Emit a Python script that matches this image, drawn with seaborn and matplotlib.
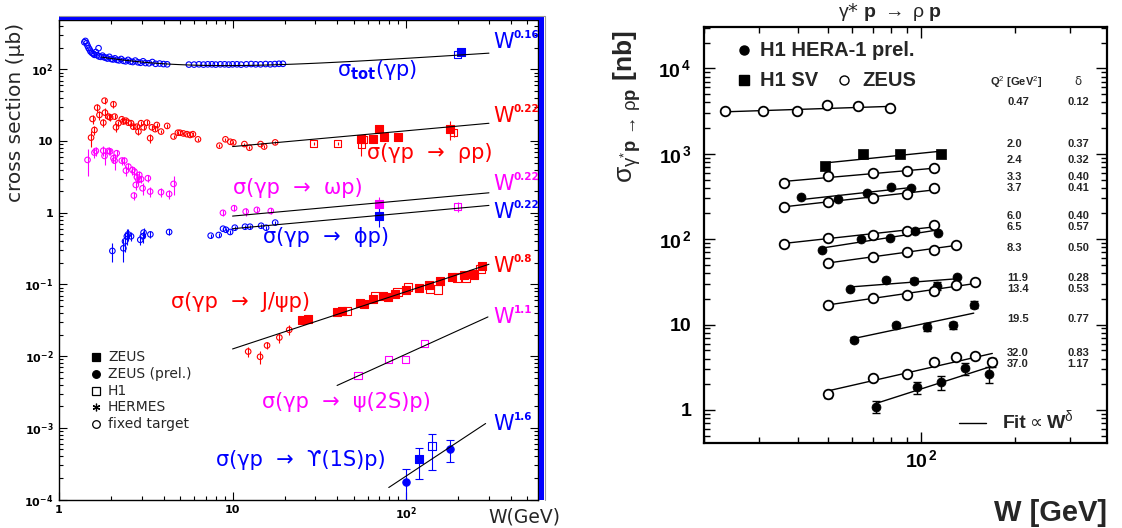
import numpy as np
import matplotlib
matplotlib.use("Agg")
import matplotlib.pyplot as plt
from matplotlib.ticker import LogLocator, NullFormatter
from matplotlib.patches import Rectangle
from matplotlib.lines import Line2D
import seaborn as sns

BLUE, RED, MAGENTA = "#0000ff", "#ff0000", "#ff00ff"

# ------------------------------------------------------------------
# Left panel: photoproduction cross sections (microbarn) versus W (GeV)
# ------------------------------------------------------------------
tot_ft_w = [1.40, 1.42, 1.44, 1.46, 1.48, 1.50, 1.52, 1.55, 1.58, 1.60, 1.63, 1.66,
            1.69, 1.70, 1.74, 1.78, 1.82, 1.86, 1.90, 1.95, 2.00, 2.05, 2.10, 2.16,
            2.22, 2.28, 2.35, 2.42, 2.50, 2.58, 2.66, 2.75, 2.85, 2.95, 3.05, 3.15,
            3.30, 3.45, 3.60, 3.80, 4.00, 4.20,
            5.6, 6.0, 6.4, 6.8, 7.2, 7.6, 8.0, 8.5, 9.0, 9.5, 10.0, 10.6, 11.2, 12.0,
            12.8, 13.6, 14.5, 15.5, 16.5, 17.5, 18.5, 19.5]
tot_ft_s = [240, 250, 232, 215, 200, 190, 178, 170, 165, 160, 175, 158,
            198, 152, 150, 156, 148, 146, 142, 150, 140, 138, 143, 136,
            134, 140, 132, 130, 136, 129, 127, 133, 126, 124, 130, 123,
            122, 127, 120, 121, 119, 118,
            117, 117, 118, 117, 118, 118, 117, 118, 118, 117, 118, 118, 117, 118,
            119, 118, 118, 119, 118, 119, 120, 120]
tot_h1_w, tot_h1_s = [197], [164]
tot_zeus_w, tot_zeus_s = [208], [174]

rho_ft_w = [1.53, 1.56, 1.60, 1.66, 1.71, 1.80, 1.83, 1.84, 1.93, 1.97, 2.06, 2.09,
            2.13, 2.20, 2.30, 2.35, 2.43, 2.51, 2.60, 2.68, 2.81, 2.87, 2.97, 3.07,
            3.21, 3.35, 3.43, 3.58, 3.66, 3.87, 4.20, 4.57, 4.84, 4.98, 5.21, 5.46,
            5.70, 5.91, 6.32, 8.4, 9.1, 9.7, 10.1, 11.7, 12.5, 14.5, 15.2, 17.6]
rho_ft_s = [11.2, 20.4, 14.3, 29.3, 23.2, 18.1, 36.7, 25.0, 22.0, 21.5, 32.7, 22.0,
            15.6, 17.8, 20.2, 18.8, 19.3, 18.1, 17.8, 15.9, 15.9, 13.6, 17.8, 15.6,
            18.1, 11.0, 15.6, 14.7, 16.8, 13.6, 16.3, 11.6, 13.1, 13.1, 12.8, 12.5,
            12.2, 12.5, 10.6, 8.65, 10.6, 9.8, 9.6, 9.1, 8.1, 9.1, 8.4, 9.6]
rho_ft_e = [0.25, 0.15, 0.15, 0.12, 0.15, 0.12, 0.10, 0.15, 0.10, 0.10, 0.10, 0.08,
            0.15, 0.08, 0.08, 0.08, 0.08, 0.08, 0.08, 0.08, 0.08, 0.10, 0.08, 0.08,
            0.08, 0.15, 0.08, 0.06, 0.06, 0.06, 0.06, 0.06, 0.06, 0.06, 0.06, 0.06,
            0.06, 0.06, 0.06, 0.05, 0.05, 0.05, 0.05, 0.05, 0.05, 0.05, 0.05, 0.05]
rho_h1_w = [29.3, 40.3, 55.0, 57.0, 188]
rho_h1_s = [9.35, 9.35, 8.85, 10.4, 13.3]
rho_h1_e = [0.05, 0.05, 0.30, 0.05, 0.15]
rho_zeus_w = [55.0, 64.5, 70.0, 74.9, 89.3, 178]
rho_zeus_s = [10.6, 10.7, 14.8, 11.4, 11.6, 14.8]
rho_zeus_e = [0.05, 0.05, 0.08, 0.05, 0.05, 0.30]

omega_ft_w = [1.46, 1.60, 1.63, 1.80, 1.83, 1.93, 1.97, 2.06, 2.09, 2.15, 2.30, 2.38,
              2.43, 2.51, 2.65, 2.70, 2.72, 2.77, 2.81, 2.87, 2.90, 2.97, 3.03, 3.25,
              3.35, 3.87, 4.31, 4.57, 8.8, 10.2, 11.9, 13.8, 16.6]
omega_ft_s = [5.47, 6.92, 7.3, 7.36, 6.22, 7.3, 7.2, 5.77, 5.35, 6.78, 5.35, 5.35,
              3.88, 4.41, 3.96, 1.74, 3.76, 2.45, 3.14, 2.88, 3.38, 2.95, 2.20, 3.04,
              1.98, 1.94, 1.83, 2.53, 1.0, 1.16, 1.04, 1.10, 1.06]
omega_ft_e = [0.40, 0.15, 0.15, 0.15, 0.25, 0.12, 0.12, 0.15, 0.25, 0.12, 0.12, 0.12,
              0.15, 0.12, 0.15, 0.12, 0.15, 0.15, 0.15, 0.12, 0.15, 0.12, 0.20, 0.12,
              0.15, 0.15, 0.15, 0.30, 0.10, 0.10, 0.12, 0.10, 0.10]
omega_zeus_w, omega_zeus_s, omega_zeus_e = [69.8], [1.32], [0.25]
omega_h1_w, omega_h1_s, omega_h1_e = [198], [1.22], [0.15]

phi_ft_w = [2.03, 2.35, 2.40, 2.46, 2.50, 2.60, 2.94, 3.04, 3.07, 3.36, 4.31, 7.48,
            8.32, 8.81, 9.16, 9.68, 10.3, 11.8, 12.6, 14.6, 15.6, 17.6]
phi_ft_s = [0.294, 0.32, 0.40, 0.47, 0.50, 0.47, 0.42, 0.47, 0.53, 0.50, 0.54, 0.48,
            0.49, 0.60, 0.58, 0.54, 0.62, 0.64, 0.64, 0.66, 0.62, 0.73]
phi_ft_e = [0.30, 0.35, 0.30, 0.25, 0.20, 0.15, 0.15, 0.20, 0.15, 0.10, 0.10, 0.06,
            0.06, 0.06, 0.06, 0.06, 0.06, 0.06, 0.06, 0.06, 0.06, 0.06]
phi_zeus_w, phi_zeus_s, phi_zeus_e = [69.8], [0.91], [0.30]

jpsi_ft_w = [12.3, 14.4, 15.8, 18.6, 21.2]
jpsi_ft_s = [0.0116, 0.0098, 0.0141, 0.0182, 0.0233]
jpsi_ft_e = [0.15, 0.20, 0.12, 0.15, 0.15]
jpsi_zeus_w = [25.1, 27.1, 39.9, 42.7, 54.5, 57.3, 64.6, 73.6, 78.2, 86.7, 100, 118,
               135, 156, 184, 215, 243, 273]
jpsi_zeus_s = [0.032, 0.033, 0.041, 0.043, 0.055, 0.054, 0.0624, 0.0693, 0.067, 0.073,
               0.084, 0.0905, 0.098, 0.112, 0.126, 0.136, 0.139, 0.184]
jpsi_h1_w = [45.6, 66.5, 89.2, 102, 137, 152, 196, 222, 247, 268]
jpsi_h1_s = [0.043, 0.0685, 0.078, 0.093, 0.087, 0.085, 0.125, 0.125, 0.136, 0.166]

psi2s_h1_w = [52.8, 79.3, 99, 128]
psi2s_h1_s = [0.0053, 0.0089, 0.0089, 0.0148]

ups_zprel_w, ups_zprel_s = [100, 178.6], [1.77e-4, 5.05e-4]
ups_zprel_lo, ups_zprel_hi = [0.5e-4, 3.36e-4], [2.65e-4, 6.8e-4]
ups_zeus_w, ups_zeus_s = [118], [3.7e-4]
ups_zeus_lo, ups_zeus_hi = [1.95e-4], [5.3e-4]
ups_h1_w, ups_h1_s = [141], [5.5e-4]
ups_h1_lo, ups_h1_hi = [2.6e-4], [8.2e-4]

# power-law fits: (norm, reference W, exponent, W range)
tot_pomeron, tot_reggeon, tot_eps, tot_eta = 67.5, 125.0, 0.16, 0.9
fit_rho = (8.4, 10.0, 0.22, 10, 300)
fit_omega = (0.90, 10.0, 0.22, 10, 300)
fit_phi = (0.60, 10.0, 0.22, 10, 300)
fit_jpsi = (0.0126, 10.0, 0.8, 10, 300)
fit_psi2s = (0.0039, 40.0, 1.1, 40, 296)
fit_ups = (1.47e-4, 79.4, 1.6, 79.4, 287)

# ------------------------------------------------------------------
# Right panel: gamma* p -> rho p (nb) versus W (GeV), several Q^2 bins
# ------------------------------------------------------------------
q2_labels = ["0.47", "2.0", "2.4", "3.3", "3.7", "6.0", "6.5", "8.3",
             "11.9", "13.4", "19.5", "32.0", "37.0"]
delta_vals = [0.12, 0.37, 0.32, 0.40, 0.41, 0.40, 0.57, 0.50, 0.28, 0.53, 0.77, 0.83, 1.17]
sources = ["ZEUS", "H1 SV", "ZEUS", "H1", "ZEUS", "ZEUS", "H1", "ZEUS",
           "H1", "ZEUS", "H1", "ZEUS", "H1"]

w_047 = [23.4, 31.0, 39.8, 49.8, 62.4, 79.5]
s_047 = [3130, 3130, 3160, 3680, 3590, 3430]
w_20 = [48.8, 64.9, 85.6, 116]
s_20 = [711, 982, 1000, 1000]
w_24 = [36.1, 49.9, 69.8, 89.7, 109.6]
s_24 = [453, 547, 598, 621, 685]
w_33 = [41.1, 54.0, 66.9, 79.7, 92.6]
s_33 = [308, 292, 346, 414, 396]
w_37 = [36.1, 49.9, 69.8, 89.7, 109.6]
s_37 = [237, 276, 302, 340, 400]
w_60 = [36.1, 49.9, 69.8, 89.7, 109.6]
s_60 = [88.1, 104, 112, 126, 145]
w_65 = [48.0, 63.8, 79.5, 95.7, 113]
s_65 = [75, 101, 103, 124, 119]
w_83 = [49.9, 69.8, 89.7, 109.6, 129]
s_83 = [52.8, 62.7, 70.5, 75, 86.6]
w_119 = [58.8, 77.0, 95.0, 112.3, 130.2]
s_119 = [25.9, 33.6, 32.8, 28.6, 35.9]
e_119 = [0, 0, 2.5, 3.0, 0]
w_134 = [49.9, 69.8, 89.7, 109.6, 129, 148.8]
s_134 = [16.9, 20.5, 22.5, 24.8, 28.7, 31.4]
e_134 = [0, 0, 0, 2.0, 0, 0]
w_195 = [60.6, 82.9, 104.3, 126.4, 147.3]
s_195 = [6.67, 9.82, 9.39, 9.82, 17.1]
e_195 = [0.4, 0.6, 1.0, 1.0, 1.6]
w_320 = [49.9, 69.8, 89.7, 109.6, 129, 148.8, 169]
s_320 = [1.53, 2.35, 2.64, 3.65, 4.14, 4.26, 3.65]
e_320 = [0.15, 0.12, 0.2, 0.2, 0.3, 0.35, 0.45]
w_370 = [71.2, 96.8, 115.7, 137.8, 164.6]
s_370 = [1.09, 1.85, 2.11, 3.07, 2.64]
e_370 = [0.18, 0.3, 0.4, 0.48, 0.58]

rho_series = [(w_047, s_047, None), (w_20, s_20, None), (w_24, s_24, None),
              (w_33, s_33, None), (w_37, s_37, None), (w_60, s_60, None),
              (w_65, s_65, None), (w_83, s_83, None), (w_119, s_119, e_119),
              (w_134, s_134, e_134), (w_195, s_195, e_195), (w_320, s_320, e_320),
              (w_370, s_370, e_370)]

# ------------------------------------------------------------------
sns.set_theme(style="ticks")
plt.rcParams.update({
    "mathtext.fontset": "custom",
    "mathtext.rm": "Liberation Sans",
    "mathtext.bf": "Liberation Sans:bold",
    "mathtext.it": "Liberation Sans:italic",
    "mathtext.sf": "Liberation Sans",
    "axes.edgecolor": "black",
    "xtick.color": "black",
    "ytick.color": "black",
})
plt.rcParams["font.family"] = ["DejaVu Sans"]

FW, FH = 1122, 528
fig = plt.figure(figsize=(FW / 100, FH / 100), dpi=100)
fig.patch.set_facecolor("white")


def fx(px):
    return px / FW


def fy(py):
    return 1 - py / FH


def ftext(px, py, s, **kw):
    return fig.text(fx(px), fy(py), s, **kw)


axL = fig.add_axes([fx(59), fy(499.5), fx(538) - fx(59), fy(20) - fy(499.5)])
axR = fig.add_axes([fx(704), fy(443.3), fx(1107) - fx(704), fy(26.7) - fy(443.3)])
for ax in (axL, axR):
    ax.set_xscale("log")
    ax.set_yscale("log")
    ax.set_facecolor("white")


def points(ax, w, s, marker, color, size, filled, lw=0.8, z=3):
    kw = dict(x=np.asarray(w, float), y=np.asarray(s, float), ax=ax, marker=marker,
              s=size, linewidth=lw, zorder=z, legend=False)
    if filled:
        sns.scatterplot(**kw, color=color, edgecolor=color)
    else:
        sns.scatterplot(**kw, facecolors="none", edgecolor=color)


def rel_bars(ax, w, s, e, color, lw=0.8, cap=0):
    s = np.asarray(s, float)
    ax.errorbar(w, s, yerr=s * np.asarray(e, float), fmt="none", ecolor=color,
                elinewidth=lw, capsize=cap, zorder=2)


def powerlaw(ax, fit, lw=0.8):
    norm, w0, p, wlo, whi = fit
    wl = np.geomspace(wlo, whi, 40)
    sns.lineplot(x=wl, y=norm * (wl / w0) ** p, ax=ax, color="black", linewidth=lw,
                 estimator=None, sort=False, legend=False, zorder=4)


# ---------------- left panel ----------------
wt = np.geomspace(1.76, 300, 80)
sns.lineplot(x=wt, y=tot_pomeron * wt ** tot_eps + tot_reggeon * wt ** (-tot_eta),
             ax=axL, color="black", linewidth=0.8, estimator=None, sort=False,
             legend=False, zorder=4)
for fit in (fit_rho, fit_omega, fit_phi, fit_jpsi, fit_psi2s, fit_ups):
    powerlaw(axL, fit)

SO, SQ = 16, 26
points(axL, tot_ft_w, tot_ft_s, "o", BLUE, SO, False)
points(axL, tot_h1_w, tot_h1_s, "s", BLUE, SQ, False)
points(axL, tot_zeus_w, tot_zeus_s, "s", BLUE, SQ, True)

rel_bars(axL, rho_ft_w, rho_ft_s, rho_ft_e, RED)
points(axL, rho_ft_w, rho_ft_s, "o", RED, SO, False)
rel_bars(axL, rho_h1_w, rho_h1_s, rho_h1_e, RED)
rel_bars(axL, rho_zeus_w, rho_zeus_s, rho_zeus_e, RED)
points(axL, rho_h1_w, rho_h1_s, "s", RED, SQ, False)
points(axL, rho_zeus_w, rho_zeus_s, "s", RED, SQ, True)

rel_bars(axL, omega_ft_w, omega_ft_s, omega_ft_e, MAGENTA)
points(axL, omega_ft_w, omega_ft_s, "o", MAGENTA, SO, False)
rel_bars(axL, omega_zeus_w, omega_zeus_s, omega_zeus_e, MAGENTA)
rel_bars(axL, omega_h1_w, omega_h1_s, omega_h1_e, MAGENTA)
points(axL, omega_zeus_w, omega_zeus_s, "s", MAGENTA, SQ, True)
points(axL, omega_h1_w, omega_h1_s, "s", MAGENTA, SQ, False)

rel_bars(axL, phi_ft_w, phi_ft_s, phi_ft_e, BLUE)
points(axL, phi_ft_w, phi_ft_s, "o", BLUE, SO, False)
rel_bars(axL, phi_zeus_w, phi_zeus_s, phi_zeus_e, BLUE)
points(axL, phi_zeus_w, phi_zeus_s, "s", BLUE, SQ, True)

rel_bars(axL, jpsi_ft_w, jpsi_ft_s, jpsi_ft_e, RED)
points(axL, jpsi_ft_w, jpsi_ft_s, "o", RED, SO, False)
points(axL, jpsi_h1_w, jpsi_h1_s, "s", RED, 34, False)
points(axL, jpsi_zeus_w, jpsi_zeus_s, "s", RED, 34, True)

points(axL, psi2s_h1_w, psi2s_h1_s, "s", MAGENTA, SQ, False)


def abs_bars(ax, w, s, lo, hi, color):
    s = np.asarray(s, float)
    yerr = np.vstack([s - np.asarray(lo, float), np.asarray(hi, float) - s])
    ax.errorbar(w, s, yerr=yerr, fmt="none", ecolor=color, elinewidth=0.8,
                capsize=3, capthick=0.8, zorder=2)


abs_bars(axL, ups_zprel_w, ups_zprel_s, ups_zprel_lo, ups_zprel_hi, BLUE)
abs_bars(axL, ups_zeus_w, ups_zeus_s, ups_zeus_lo, ups_zeus_hi, BLUE)
abs_bars(axL, ups_h1_w, ups_h1_s, ups_h1_lo, ups_h1_hi, BLUE)
points(axL, ups_zprel_w, ups_zprel_s, "o", BLUE, 28, True)
points(axL, ups_zeus_w, ups_zeus_s, "s", BLUE, 28, True)
points(axL, ups_h1_w, ups_h1_s, "s", BLUE, 34, False)

axL.set_xlim(1, 575)
axL.set_ylim(1e-4, 490)
axL.set_xticks([1, 10, 100], labels=["1", "10", r"$\mathbf{10^{2}}$"])
axL.set_yticks([1e-4, 1e-3, 1e-2, 1e-1, 1, 10, 100],
               labels=[r"$\mathbf{10^{-4}}$", r"$\mathbf{10^{-3}}$", r"$\mathbf{10^{-2}}$",
                       r"$\mathbf{10^{-1}}$", "1", "10", r"$\mathbf{10^{2}}$"])
for axis in (axL.xaxis, axL.yaxis):
    axis.set_minor_locator(LogLocator(base=10, subs=np.arange(2, 10), numticks=30))
    axis.set_minor_formatter(NullFormatter())
axL.tick_params(which="both", direction="in", top=True, right=True, width=0.8,
                labelsize=8)
axL.tick_params(which="major", length=6, pad=4)
axL.tick_params(which="minor", length=3)
for lab in axL.get_xticklabels() + axL.get_yticklabels():
    lab.set_fontweight("bold")
    lab.set_math_fontfamily("dejavusans")
for sp in axL.spines.values():
    sp.set_linewidth(1.0)
axL.set_xlabel("")
axL.set_ylabel("")

# shaded frame along top and right of the left panel
fig.add_artist(Rectangle((fx(59), fy(20.3)), fx(544) - fx(59), 4.3 / FH,
                         transform=fig.transFigure, facecolor=BLUE, edgecolor="none"))
fig.add_artist(Rectangle((fx(538.5), fy(500)), 5.5 / FW, 484 / FH,
                         transform=fig.transFigure, facecolor=BLUE, edgecolor="none"))
fig.add_artist(Line2D([fx(59), fx(544.5), fx(544.5)], [fy(15.5), fy(15.5), fy(500)],
                      transform=fig.transFigure, color="#9a9a9a", linewidth=0.8))

MF = "dejavusans"
ftext(16, 23, "cross section (μb)", rotation=90, ha="center", va="top", size=14.5)
ftext(488, 516.7, "W(GeV)", ha="left", va="center", size=13.5)

ftext(337, 70, r"σ$_{\mathbf{tot}}$(γp)", color=BLUE, size=15, ha="left",
      va="center", math_fontfamily=MF)
ftext(367, 153.3, "σ(γp  →  ρp)", color=RED, size=15, ha="left", va="center")
ftext(233, 188.3, "σ(γp  →  ωp)", color=MAGENTA, size=15, ha="left", va="center")
ftext(263, 236.7, "σ(γp  →  ϕp)", color=BLUE, size=15, ha="left", va="center")
ftext(171, 301.7, "σ(γp  →  J/ψp)", color=RED, size=15, ha="left", va="center")
ftext(262, 401.7, "σ(γp  →  ψ(2S)p)", color=MAGENTA, size=15, ha="left", va="center")
ftext(216, 460, "σ(γp  →  ϒ(1S)p)", color=BLUE, size=15, ha="left", va="center")

w_exponent_labels = [("0.16", 42.5, BLUE), ("0.22", 116, RED), ("0.22", 184, MAGENTA),
                     ("0.22", 212, BLUE), ("0.8", 266, RED), ("1.1", 317, MAGENTA),
                     ("1.6", 424, BLUE)]
for txt, yy, col in w_exponent_labels:
    ftext(493, yy, "W", color=col, size=15, ha="left", va="center")
    ftext(514, yy - 7, txt, color=col, size=7.5, weight="bold", ha="left", va="center")

legend_rows = [("s", True, "ZEUS"), ("o", True, "ZEUS (prel.)"), ("s", False, "H1"),
               ((6, 2, 0), True, "HERMES"), ("o", False, "fixed target")]
for i, (mk, filled, lab) in enumerate(legend_rows):
    yy = 357.3 + i * 16.7
    fig.add_artist(Line2D([fx(96)], [fy(yy)], transform=fig.transFigure, marker=mk,
                          markersize=5.5, markerfacecolor="black" if filled else "none",
                          markeredgecolor="black", markeredgewidth=0.9, linestyle="none"))
    ftext(108, yy, lab, size=10, ha="left", va="center")

# ---------------- right panel ----------------
for (w, s, e), d, src in zip(rho_series, delta_vals, sources):
    w = np.asarray(w, float)
    s = np.asarray(s, float)
    logn = np.mean(np.log10(s) - d * np.log10(w))
    wl = np.geomspace(w.min(), w.max(), 20)
    sns.lineplot(x=wl, y=10 ** logn * wl ** d, ax=axR, color="black", linewidth=1.0,
                 estimator=None, sort=False, legend=False, zorder=2)
    if e is not None:
        axR.errorbar(w, s, yerr=np.asarray(e, float), fmt="none", ecolor="black",
                     elinewidth=1.0, capsize=3, capthick=1.0, zorder=2)
    if src == "ZEUS":
        sns.scatterplot(x=w, y=s, ax=axR, marker="o", s=48, facecolors="white",
                        edgecolor="black", linewidth=1.3, zorder=3, legend=False)
    elif src == "H1":
        sns.scatterplot(x=w, y=s, ax=axR, marker="o", s=42, color="black",
                        edgecolor="black", linewidth=0.5, zorder=3, legend=False)
    else:
        sns.scatterplot(x=w, y=s, ax=axR, marker="s", s=48, color="black",
                        edgecolor="black", linewidth=0.5, zorder=3, legend=False)

axR.set_xlim(20, 395)
axR.set_ylim(0.407, 30800)
axR.set_xticks([100], labels=[r"$\mathbf{10^{\,2}}$"])
axR.set_yticks([1, 10, 100, 1000, 10000],
               labels=["1", "10", r"$\mathbf{10^{\,2}}$", r"$\mathbf{10^{\,3}}$",
                       r"$\mathbf{10^{\,4}}$"])
for axis in (axR.xaxis, axR.yaxis):
    axis.set_minor_locator(LogLocator(base=10, subs=np.arange(2, 10), numticks=30))
    axis.set_minor_formatter(NullFormatter())
axR.tick_params(which="both", direction="in", top=True, right=True, width=1.0,
                labelsize=14)
axR.tick_params(which="major", length=8)
axR.tick_params(axis="y", which="major", pad=9)
axR.tick_params(axis="x", which="major", pad=4)
axR.tick_params(which="minor", length=4.5)
for lab in axR.get_xticklabels() + axR.get_yticklabels():
    lab.set_fontweight("bold")
    lab.set_fontfamily("Liberation Sans")
for sp in axR.spines.values():
    sp.set_linewidth(1.6)
axR.set_xlabel("")
axR.set_ylabel("")

ftext(890, 12, r"$\mathrm{\gamma}$* $\mathbf{p}\ \rightarrow\ \mathrm{\rho}\ \mathbf{p}$",
      size=14, ha="center", va="center")
ftext(627, 30,
      r"$\mathrm{\sigma}_{\mathrm{\gamma}^{*}\mathbf{p}\,\rightarrow\,\mathrm{\rho}\mathbf{p}}$ [nb]",
      rotation=90, ha="center", va="top", size=19, weight="bold",
      family=["Liberation Sans", "DejaVu Sans"])
ftext(1107, 513, "W [GeV]", ha="right", va="center", size=21, weight="bold",
      family="Liberation Sans")

LEG = dict(size=14.5, weight="bold", family="Liberation Sans", ha="left", va="center")
fig.add_artist(Line2D([fx(744)], [fy(50)], transform=fig.transFigure, marker="o",
                      markersize=6.5, color="black", linestyle="none"))
ftext(760, 50, "H1 HERA-1 prel.", **LEG)
fig.add_artist(Line2D([fx(744)], [fy(80)], transform=fig.transFigure, marker="s",
                      markersize=6.5, color="black", linestyle="none"))
ftext(760, 80, "H1 SV", **LEG)
fig.add_artist(Line2D([fx(844)], [fy(80)], transform=fig.transFigure, marker="o",
                      markersize=6.5, markerfacecolor="white", markeredgecolor="black",
                      markeredgewidth=1.0, linestyle="none"))
ftext(862, 80, "ZEUS", **LEG)

fig.add_artist(Line2D([fx(959), fx(986)], [fy(422.7), fy(422.7)],
                      transform=fig.transFigure, color="black", linewidth=1.0))
FIT_BASE = 428.5
ftext(1003, FIT_BASE, "Fit", size=14, weight="bold", family="Liberation Sans",
      ha="left", va="baseline")
ftext(1029, FIT_BASE, "∝", size=13, family="DejaVu Sans", ha="left", va="baseline")
ftext(1046, FIT_BASE, r"W$^{\mathrm{\delta}}$", size=14, weight="bold",
      family="Liberation Sans", ha="left", va="baseline")

ftext(990, 81.7, r"Q$^{2}$ [GeV$^{2}$]", size=8, weight="bold",
      family="Liberation Sans", ha="left", va="center")
ftext(1078, 81.7, "δ", size=8.5, family="DejaVu Sans", ha="center", va="center")
row_py = [101.7, 144, 160, 177.3, 188.3, 215.7, 226.7, 248.3, 277.7, 289.3, 319, 352.7, 364]
TAB = dict(size=8, weight="bold", family="Liberation Sans", ha="left", va="center")
for yy, q, d in zip(row_py, q2_labels, delta_vals):
    ftext(1007, yy, q, **TAB)
    ftext(1067, yy, f"{d:.2f}", **TAB)

fig.savefig("out.png", dpi=100)
